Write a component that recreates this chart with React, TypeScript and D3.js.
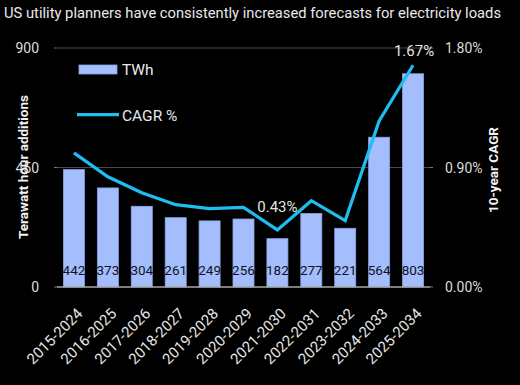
import React from "react";
import * as d3 from "d3";

const title = "US utility planners have consistently increased forecasts for electricity loads";
const categories = ["2015-2024","2016-2025","2017-2026","2018-2027","2019-2028","2020-2029","2021-2030","2022-2031","2023-2032","2024-2033","2025-2034"];
const twh = [442, 373, 304, 261, 249, 256, 182, 277, 221, 564, 803];
const cagr = [1.01, 0.83, 0.71, 0.62, 0.59, 0.60, 0.43, 0.65, 0.50, 1.25, 1.67];
const leftTicks = [0, 450, 900];
const rightTicks = [0, 0.9, 1.8];
const labelledCagr = [6, 10];

const W = 520, H = 385;
const m = { left: 57, right: 430, top: 48, bottom: 287 };
const FONT = "Roboto, 'Open Sans', sans-serif";

export default function App() {
  const x = d3.scaleBand<string>().domain(categories).range([m.left, m.right]).paddingInner(0.38).paddingOuter(0.19);
  const yL = d3.scaleLinear().domain([0, 900]).range([m.bottom, m.top]);
  const yR = d3.scaleLinear().domain([0, 1.8]).range([m.bottom, m.top]);
  const cx = (c: string) => (x(c) as number) + x.bandwidth() / 2;
  const line = d3.line<number>().x((_, i) => cx(categories[i])).y((d) => yR(d));
  const xfs = 15;
  const hAsc = 0.72 * xfs * 0.707;

  return (
    <svg width={W} height={H} style={{ position: "absolute", left: 0, top: 0, background: "#000" }} fontFamily={FONT}>
      <rect x={0} y={0} width={W} height={H} fill="#000" />
      <text x={4} y={18} fill="#e8e8ee" fontSize={15} textLength={497} lengthAdjust="spacingAndGlyphs" transform="translate(0,0)">{title}</text>

      {leftTicks.map((t) => (
        <g key={"g" + t}>
          {t !== 0 && <line x1={m.left} x2={m.right} y1={yL(t)} y2={yL(t)} stroke="#4a4a4a" strokeWidth={1.2} />}
          <line x1={m.left - 3} x2={m.left} y1={yL(t)} y2={yL(t)} stroke="#777" />
          <line x1={m.right} x2={m.right + 3} y1={yL(t)} y2={yL(t)} stroke="#777" />
          <text x={39} y={yL(t)} dy="0.36em" textAnchor="end" fill="#dcdcdc" fontSize={14}>{t}</text>
        </g>
      ))}
      {rightTicks.map((t) => (
        <text key={"r" + t} x={445} y={yR(t)} dy="0.36em" fill="#dcdcdc" fontSize={14}>{t.toFixed(2) + "%"}</text>
      ))}

      {twh.map((v, i) => (
        <rect key={"b" + i} x={x(categories[i])} y={yL(v)} width={x.bandwidth()} height={yL(0) - yL(v)} fill="#a3bdfd" stroke="#8aa3e6" strokeWidth={0.8} />
      ))}
      <line x1={m.left} x2={m.right} y1={m.bottom} y2={m.bottom} stroke="#a8a8a8" strokeWidth={1.6} />

      <path d={line(cagr) || ""} fill="none" stroke="#1ebef0" strokeWidth={3.2} strokeLinejoin="miter" />

      {twh.map((v, i) => (
        <text key={"v" + i} x={cx(categories[i])} y={275} textAnchor="middle" fill="#111122" fontSize={13.5}>{v}</text>
      ))}

      {labelledCagr.map((i) => (
        <text key={"c" + i} x={cx(categories[i]) + (i === 6 ? 0 : 1)} y={yR(cagr[i]) - (i === 6 ? 18 : 9)} textAnchor="middle" fill="#e4e4e4" fontSize={15}>{cagr[i].toFixed(2) + "%"}</text>
      ))}

      {categories.map((c) => {
        const ax = cx(c) + 2 + hAsc;
        const ay = 307 + hAsc;
        return (
          <text key={"x" + c} x={ax} y={ay} transform={`rotate(-45 ${ax} ${ay})`} textAnchor="end" fill="#e6e6e6" fontSize={xfs}>{c}</text>
        );
      })}

      <rect x={79} y={65} width={38} height={9} fill="#a3bdfd" stroke="#8aa3e6" strokeWidth={0.8} />
      <text x={122} y={75} fill="#e8e8e8" fontSize={15.5}>TWh</text>
      <line x1={77} x2={119} y1={114.7} y2={114.7} stroke="#1ebef0" strokeWidth={3.2} />
      <text x={122} y={121} fill="#e8e8e8" fontSize={15.5}>CAGR %</text>

      <text transform={`translate(28,167) rotate(-90)`} textAnchor="middle" fill="#f2f2f2" fontSize={13.5} fontWeight="bold">Terawatt hour additions</text>
      <text transform={`translate(498,170) rotate(-90)`} textAnchor="middle" fill="#f2f2f2" fontSize={13.5} fontWeight="bold">10-year CAGR</text>
    </svg>
  );
}
